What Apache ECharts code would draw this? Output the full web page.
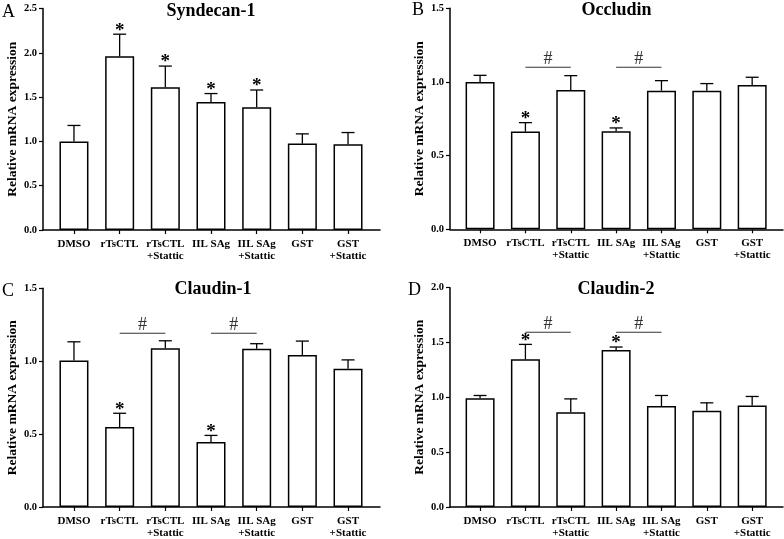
<!DOCTYPE html>
<html>
<head>
<meta charset="utf-8">
<script src="https://cdn.jsdelivr.net/npm/echarts@6/dist/echarts.min.js"></script>
<style>html,body{margin:0;padding:0;background:#fff;}#c{width:784px;height:539px;}</style>
</head>
<body>
<div id="c"></div>
<script>
var categories = ['DMSO', 'rTsCTL', 'rTsCTL\n+Stattic', 'IIL SAg', 'IIL SAg\n+Stattic', 'GST', 'GST\n+Stattic'];

var titles = ['Syndecan-1', 'Occludin', 'Claudin-1', 'Claudin-2'];
var letters = ['A', 'B', 'C', 'D'];

var syndecanMean = [1.0, 1.96, 1.61, 1.445, 1.385, 0.975, 0.967];
var syndecanErr  = [0.18, 0.25, 0.24, 0.095, 0.195, 0.11, 0.133];
var syndecanStar = [1, 2, 3, 4];
var syndecanHash = [];

var occludinMean = [1.0, 0.663, 0.946, 0.666, 0.941, 0.941, 0.98];
var occludinErr  = [0.045, 0.061, 0.097, 0.022, 0.068, 0.048, 0.052];
var occludinStar = [1, 3];
var occludinHash = [[1, 2, 1.1], [3, 4, 1.1]];

var claudin1Mean = [1.005, 0.548, 1.088, 0.446, 1.086, 1.043, 0.948];
var claudin1Err  = [0.128, 0.095, 0.052, 0.045, 0.034, 0.095, 0.061];
var claudin1Star = [1, 3];
var claudin1Hash = [[1, 2, 1.192], [3, 4, 1.192]];

var claudin2Mean = [0.992, 1.347, 0.863, 1.432, 0.92, 0.878, 0.926];
var claudin2Err  = [0.025, 0.136, 0.123, 0.027, 0.097, 0.072, 0.082];
var claudin2Star = [1, 3];
var claudin2Hash = [[1, 2, 1.594], [3, 4, 1.594]];

var yMax = [2.5, 1.5, 1.5, 2.0];

var panels = [
  {mean: syndecanMean, err: syndecanErr, star: syndecanStar, hash: syndecanHash},
  {mean: occludinMean, err: occludinErr, star: occludinStar, hash: occludinHash},
  {mean: claudin1Mean, err: claudin1Err, star: claudin1Star, hash: claudin1Hash},
  {mean: claudin2Mean, err: claudin2Err, star: claudin2Star, hash: claudin2Hash}
];

var FONT = '"Liberation Serif", "Times New Roman", serif';
var grids = [
  {left: 43, right: 404, top: 8.5, bottom: 309},
  {left: 450, right: 1, top: 8.3, bottom: 309.7},
  {left: 43, right: 404, top: 288.3, bottom: 29.7},
  {left: 450, right: 1, top: 287.7, bottom: 29.7}
];
var xRange = [[-0.678, 6.7], [-0.663, 6.68], [-0.678, 6.7], [-0.663, 6.68]];
var catIdx = categories.map(function (c, i) { return i; });

var titleOpts = [];
var xAxes = [], yAxes = [], series = [];
var titlePos = [[211, 2], [616.5, 1], [213, 280], [616, 280]];
var letterPos = [[2, 3], [412, 1], [2, 282], [408, 281]];

panels.forEach(function (p, k) {
  titleOpts.push({
    text: titles[k], left: titlePos[k][0], top: titlePos[k][1], textAlign: 'center', padding: 0,
    textStyle: {fontFamily: FONT, fontWeight: 'bold', fontSize: 18, color: '#000'}
  });
  titleOpts.push({
    text: letters[k], left: letterPos[k][0], top: letterPos[k][1], padding: 0,
    textStyle: {fontFamily: FONT, fontWeight: 'normal', fontSize: 18, color: '#000'}
  });
  xAxes.push({
    type: 'value', gridIndex: k, min: xRange[k][0], max: xRange[k][1],
    splitLine: {show: false},
    axisLine: {show: true, onZero: false, lineStyle: {color: '#000', width: 1.5}},
    axisTick: {show: true, customValues: catIdx, length: 4, lineStyle: {color: '#000', width: 1.2}},
    axisLabel: {
      show: true, customValues: catIdx, margin: 8, lineHeight: 12,
      fontFamily: FONT, fontWeight: 'bold', fontSize: 11, color: '#000',
      formatter: function (v) { return categories[Math.round(v)]; }
    }
  });
  yAxes.push({
    type: 'value', gridIndex: k, min: 0, max: yMax[k], interval: 0.5,
    name: 'Relative mRNA expression', nameLocation: 'middle', nameGap: 22,
    nameTextStyle: {fontFamily: FONT, fontWeight: 'bold', fontSize: 13.5, color: '#000'},
    splitLine: {show: false},
    axisLine: {show: true, onZero: false, lineStyle: {color: '#000', width: 1.5}},
    axisTick: {show: true, length: 4, lineStyle: {color: '#000', width: 1.2}},
    axisLabel: {
      margin: 6, fontFamily: FONT, fontWeight: 'bold', fontSize: 10.5, color: '#000',
      formatter: function (v) { return v.toFixed(1); }
    }
  });
  series.push({
    type: 'bar', xAxisIndex: k, yAxisIndex: k, barWidth: 29,
    data: p.mean.map(function (m, i) { return [i, m]; }),
    itemStyle: {color: '#fff', borderColor: '#000', borderWidth: 1.5},
    z: 2
  });
  series.push({
    type: 'custom', xAxisIndex: k, yAxisIndex: k, z: 3,
    data: p.mean.map(function (m, i) { return [i, m, m + p.err[i], p.star.indexOf(i) >= 0 ? 1 : 0]; }),
    renderItem: function (params, api) {
      var x = api.value(0), m = api.value(1), t = api.value(2), s = api.value(3);
      var pb = api.coord([x, m]), pt = api.coord([x, t]);
      var children = [
        {type: 'line', shape: {x1: pb[0], y1: pb[1], x2: pt[0], y2: pt[1]}, style: {stroke: '#000', lineWidth: 1.3}},
        {type: 'line', shape: {x1: pt[0] - 6.5, y1: pt[1], x2: pt[0] + 6.5, y2: pt[1]}, style: {stroke: '#000', lineWidth: 1.3}}
      ];
      if (s) {
        children.push({type: 'text', style: {text: '*', x: pt[0], y: pt[1] + 6, align: 'center', verticalAlign: 'bottom',
          font: 'bold 19px ' + FONT, fill: '#000'}});
      }
      return {type: 'group', children: children};
    }
  });
  if (p.hash.length) {
    series.push({
      type: 'custom', xAxisIndex: k, yAxisIndex: k, z: 3,
      data: p.hash,
      renderItem: function (params, api) {
        var a = api.coord([api.value(0), api.value(2)]);
        var b = api.coord([api.value(1), api.value(2)]);
        return {type: 'group', children: [
          {type: 'line', shape: {x1: a[0], y1: a[1], x2: b[0], y2: b[1]}, style: {stroke: '#333', lineWidth: 1.1}},
          {type: 'text', style: {text: '#', x: (a[0] + b[0]) / 2, y: a[1] + 1.5, align: 'center', verticalAlign: 'bottom',
            font: '18px ' + FONT, fill: '#333'}}
        ]};
      }
    });
  }
});

var chart = echarts.init(document.getElementById('c'));
chart.setOption({
  animation: false,
  backgroundColor: '#fff',
  title: titleOpts,
  grid: grids,
  xAxis: xAxes,
  yAxis: yAxes,
  series: series
});
</script>
</body>
</html>
